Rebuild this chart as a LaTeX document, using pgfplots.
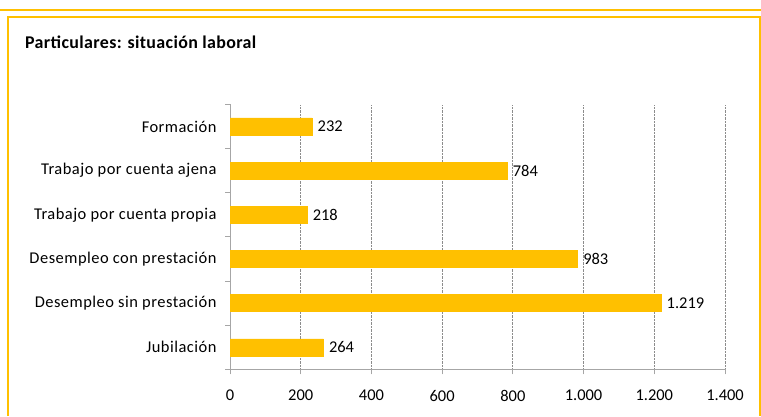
\documentclass[border=0pt]{standalone}
\usepackage{fontspec}
\setmainfont{Carlito}
\usepackage{pgfplots}
\pgfplotsset{compat=1.18}
\definecolor{gold}{HTML}{FFC000}
\definecolor{axgray}{HTML}{A6A6A6}
\definecolor{gridgray}{HTML}{8C8C8C}
\newcommand{\lblfont}{\fontsize{16.5}{19}\selectfont\addfontfeature{LetterSpace=3}}
\begin{document}
\begin{tikzpicture}[x=1bp,y=1bp]
\useasboundingbox (0,0) rectangle (761,416);
% frame
\draw[gold, line width=2bp] (0,406) -- (761,406);
\draw[gold, line width=2bp] (8,0) -- (8,398.5) -- (759.5,398.5) -- (759.5,0);
\node[anchor=base west, inner sep=0pt, font=\bfseries\fontsize{18}{21}\selectfont\addfontfeature{LetterSpace=2}] at (25,368) {Particulares: situación laboral};
\begin{axis}[
  at={(230bp,46.6bp)}, anchor=south west,
  scale only axis, width=495bp, height=265bp,
  xmin=0, xmax=1400, ymin=0.5, ymax=6.5,
  xbar, bar width=17bp, bar shift=0pt,
  axis x line*=bottom, axis y line*=left,
  axis line style={-, draw=axgray, line width=1bp},
  xtick={0,200,...,1400},
  xmajorgrids, major grid style={densely dotted, gridgray, line width=0.8bp},
  ytick={0.5,1.5,...,6.5}, yticklabels={},
  extra y ticks={1,2,3,4,5,6},
  extra y tick labels={Jubilación,Desempleo sin prestación,Desempleo con prestación,Trabajo por cuenta propia,Trabajo por cuenta ajena,Formación},
  extra y tick style={grid=none, major tick length=0pt, yticklabel style={xshift=-10bp, font=\lblfont}},
  tick align=outside, major tick length=5bp,
  tick style={axgray, line width=1bp},
  xticklabel style={yshift=-12bp},
  ticklabel style={font=\fontsize{16.5}{19}\selectfont, text=black},
  /pgf/number format/.cd, 1000 sep={.}, assume math mode=true,
  /pgfplots/.cd,
  nodes near coords,
  nodes near coords style={font=\fontsize{16.5}{19}\selectfont, black, anchor=west, inner sep=5.5bp},
]
\addplot[fill=gold, draw=gold] coordinates {(264,1) (1219,2) (983,3) (218,4) (784,5) (232,6)};
\end{axis}
\end{tikzpicture}
\end{document}
